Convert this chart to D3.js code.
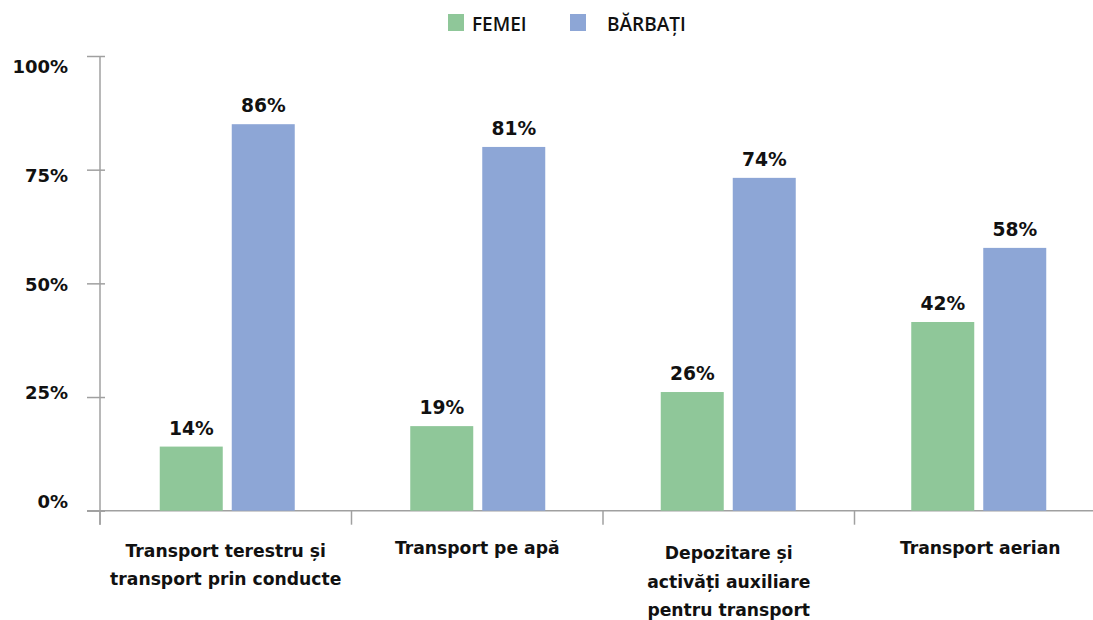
<!DOCTYPE html>
<html>
<head>
<meta charset="utf-8">
<script src="https://cdn.jsdelivr.net/npm/d3@7"></script>
<style>
  body { margin: 0; background: #fff; }
  text { font-family: "DejaVu Sans", sans-serif; font-weight: 700; fill: #111; }
</style>
</head>
<body>
<script>
// Chart data
var categories = [
  ["Transport terestru și", "transport prin conducte"],
  ["Transport pe apă"],
  ["Depozitare și", "activăți auxiliare", "pentru transport"],
  ["Transport aerian"]
];
var femei = [14.1, 18.6, 26.1, 41.5];
var barbati = [85.0, 80.0, 73.2, 57.8];
var femeiLabels = ["14%", "19%", "26%", "42%"];
var barbatiLabels = ["86%", "81%", "74%", "58%"];
var yTicks = [0, 25, 50, 75, 100];
var series = ["FEMEI", "BĂRBAȚI"];
var colors = ["#8fc799", "#8da6d6"];

var width = 1093, height = 620;

var svg = d3.select("body").append("svg")
  .attr("width", width)
  .attr("height", height);

// Scales
var x = d3.scaleBand()
  .domain(d3.range(categories.length))
  .range([100, 1106]);
// bar groups sit slightly tighter than the axis bands
var xBars = d3.scaleBand()
  .domain(d3.range(categories.length))
  .range([102, 1104]);
var y = d3.scaleLinear()
  .domain([0, 100])
  .range([510.7, 56]);
// tick labels sit on their own spacing in the original
var yLabel = d3.scaleLinear()
  .domain([0, 100])
  .range([508, 73]);

// Y axis
var yAxis = svg.append("g")
  .attr("transform", "translate(100,0)")
  .call(d3.axisLeft(y).tickValues(yTicks).tickSize(13).tickFormat(""));
yAxis.select(".domain").remove();
yAxis.selectAll(".tick line")
  .attr("x2", -13).attr("x1", 5)
  .attr("stroke", "#a0a0a0").attr("stroke-width", 1.5);
svg.append("line")
  .attr("x1", 100).attr("x2", 100)
  .attr("y1", y(100)).attr("y2", y(0) + 14)
  .attr("stroke", "#a0a0a0").attr("stroke-width", 1.5);

svg.selectAll(".ylabel")
  .data(yTicks).enter()
  .append("text")
    .attr("class", "ylabel")
    .attr("x", 68)
    .attr("y", function(d) { return yLabel(d); })
    .attr("text-anchor", "end")
    .style("font-size", "18px")
    .text(function(d) { return d + "%"; });

// X axis
svg.append("line")
  .attr("x1", 87).attr("x2", width)
  .attr("y1", y(0)).attr("y2", y(0))
  .attr("stroke", "#a0a0a0").attr("stroke-width", 1.5);
svg.selectAll(".xtick")
  .data(d3.range(categories.length + 1)).enter()
  .append("line")
    .attr("class", "xtick")
    .attr("x1", function(d) { return 100 + d * x.bandwidth(); })
    .attr("x2", function(d) { return 100 + d * x.bandwidth(); })
    .attr("y1", y(0)).attr("y2", y(0) + 14)
    .attr("stroke", "#a0a0a0").attr("stroke-width", 1.5);

// Bars
var barW = 63, gap = 9;
var groups = svg.selectAll(".cat")
  .data(categories).enter()
  .append("g")
    .attr("class", "cat");

[femei, barbati].forEach(function(vals, s) {
  var labels = s === 0 ? femeiLabels : barbatiLabels;
  function barCenter(i) {
    var c = xBars(i) + xBars.bandwidth() / 2;
    return s === 0 ? c - gap / 2 - barW / 2 : c + gap / 2 + barW / 2;
  }
  svg.selectAll(".bar" + s)
    .data(vals).enter()
    .append("rect")
      .attr("class", "bar" + s)
      .attr("x", function(d, i) { return barCenter(i) - barW / 2; })
      .attr("y", function(d) { return y(d); })
      .attr("width", barW)
      .attr("height", function(d) { return y(0) - y(d); })
      .attr("fill", colors[s]);
  svg.selectAll(".val" + s)
    .data(vals).enter()
    .append("text")
      .attr("class", "val" + s)
      .attr("x", function(d, i) { return barCenter(i); })
      .attr("y", function(d) { return y(d) - 12; })
      .attr("text-anchor", "middle")
      .style("font-size", "18.7px")
      .text(function(d, i) { return labels[i]; });
});

// Category labels
groups.append("text")
  .attr("text-anchor", "middle")
  .attr("x", function(d, i) { return x(i) + x.bandwidth() / 2; })
  .attr("y", function(d) { return 554 + (d.length - 1) * 2.5; })
  .style("font-size", "17.2px")
  .selectAll("tspan")
    .data(function(d) { return d; }).enter()
  .append("tspan")
    .attr("x", function() { return this.parentNode.getAttribute("x"); })
    .attr("dy", function(d, i) { return i === 0 ? 0 : 28.5; })
    .text(function(d) { return d; });

// Legend
var legendX = [448, 570], legendTextX = [472, 607];
series.forEach(function(name, s) {
  svg.append("rect")
    .attr("x", legendX[s]).attr("y", 14)
    .attr("width", 16).attr("height", 17)
    .attr("fill", colors[s]);
  svg.append("text")
    .attr("x", legendTextX[s]).attr("y", 31)
    .style("font-family", "'Open Sans', sans-serif")
    .style("font-size", "19px")
    .style("font-weight", 600)
    .text(name);
});
</script>
</body>
</html>
